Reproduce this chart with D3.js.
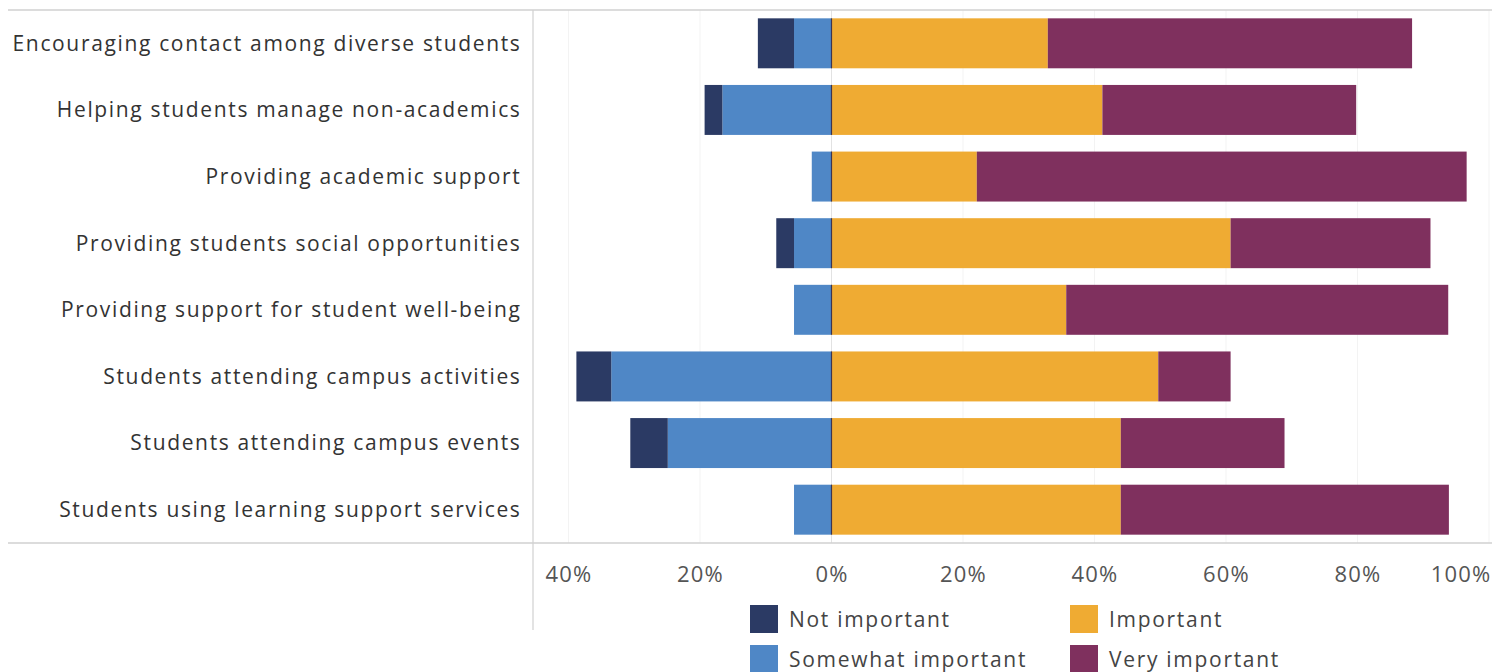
<!DOCTYPE html>
<html>
<head>
<meta charset="utf-8">
<script src="https://cdn.jsdelivr.net/npm/d3@7"></script>
<style>
  body { margin: 0; background: #fff; }
  text { font-family: "Open Sans", sans-serif; }
</style>
</head>
<body>
<div id="chart"></div>
<script>
// Survey items (rows, top to bottom)
var categories = [
  "Encouraging contact among diverse students",
  "Helping students manage non-academics",
  "Providing academic support",
  "Providing students social opportunities",
  "Providing support for student well-being",
  "Students attending campus activities",
  "Students attending campus events",
  "Students using learning support services"
];

// Percent of respondents per rating
var notImportant      = [5.5, 2.7, 0.0, 2.7, 0.0, 5.3, 5.7, 0.0];
var somewhatImportant = [5.7, 16.6, 3.0, 5.7, 5.7, 33.5, 24.9, 5.7];
var important         = [32.9, 41.2, 22.1, 60.7, 35.7, 49.7, 44.0, 44.0];
var veryImportant     = [55.4, 38.6, 74.5, 30.4, 58.1, 11.0, 24.9, 49.9];

var ratingLabels = ["Not important", "Somewhat important", "Important", "Very important"];
var ratingColors = ["#2b3a64", "#4f87c6", "#efab33", "#7f305e"];
var tickValues = [-40, -20, 0, 20, 40, 60, 80, 100];

var svgWidth = 1492;
var svgHeight = 672;
var plotLeft = 533;
var plotTop = 10;
var plotBottom = 543;

var svg = d3.select("#chart")
  .append("svg")
  .attr("width", svgWidth)
  .attr("height", svgHeight);

// build rows for the stack; left side values are negative
var rows = categories.map(function(c, i) {
  return {
    cat: c,
    "Somewhat important": -somewhatImportant[i],
    "Not important": -notImportant[i],
    "Important": important[i],
    "Very important": veryImportant[i]
  };
});

var stackKeys = ["Somewhat important", "Not important", "Important", "Very important"];
var series = d3.stack()
  .keys(stackKeys)
  .offset(d3.stackOffsetDiverging)(rows);

var color = d3.scaleOrdinal().domain(ratingLabels).range(ratingColors);

var x = d3.scaleLinear()
  .domain([0, 100])
  .range([831.5, 1489]);

var y = d3.scaleBand()
  .domain(categories)
  .range([plotTop, plotBottom])
  .paddingInner(0.25)
  .paddingOuter(0.125);

// faint gridlines
svg.append("g")
  .selectAll("line")
  .data(tickValues.filter(d => d !== 0))
  .enter()
  .append("line")
  .attr("x1", d => x(d))
  .attr("x2", d => x(d))
  .attr("y1", plotTop)
  .attr("y2", plotBottom)
  .attr("stroke", "#f3f3f3")
  .attr("stroke-width", 1);

// zero line
svg.append("line")
  .attr("x1", x(0))
  .attr("x2", x(0))
  .attr("y1", plotTop)
  .attr("y2", plotBottom)
  .attr("stroke", "#e2e2e2");

// bars
svg.append("g")
  .selectAll("g")
  .data(series)
  .enter()
  .append("g")
  .attr("fill", d => color(d.key))
  .selectAll("rect")
  .data(d => d)
  .enter()
  .append("rect")
  .attr("x", d => x(Math.min(d[0], d[1])))
  .attr("width", d => Math.abs(x(d[1]) - x(d[0])))
  .attr("y", d => y(d.data.cat))
  .attr("height", y.bandwidth());

// dark zero rule across each bar
svg.append("g")
  .selectAll("line")
  .data(categories)
  .enter()
  .append("line")
  .attr("x1", x(0))
  .attr("x2", x(0))
  .attr("y1", d => y(d))
  .attr("y2", d => y(d) + y.bandwidth())
  .attr("stroke", "#3d3550")
  .attr("stroke-width", 1.2);

// borders
svg.append("line")
  .attr("x1", 8).attr("x2", svgWidth)
  .attr("y1", plotTop).attr("y2", plotTop)
  .attr("stroke", "#d0d0d0").attr("stroke-width", 1.5);
svg.append("line")
  .attr("x1", 8).attr("x2", svgWidth)
  .attr("y1", plotBottom).attr("y2", plotBottom)
  .attr("stroke", "#d0d0d0").attr("stroke-width", 1.5);
svg.append("line")
  .attr("x1", plotLeft).attr("x2", plotLeft)
  .attr("y1", plotTop).attr("y2", 630)
  .attr("stroke", "#d0d0d0").attr("stroke-width", 1.2);

// category labels
svg.append("g")
  .selectAll("text")
  .data(categories)
  .enter()
  .append("text")
  .attr("x", 521.5)
  .attr("y", d => y(d) + y.bandwidth() / 2)
  .attr("dy", "0.35em")
  .attr("text-anchor", "end")
  .attr("font-size", "21px")
  .attr("letter-spacing", "1.65px")
  .attr("fill", "#333")
  .text(d => d);

// x axis
var xAxis = d3.axisBottom(x)
  .tickValues(tickValues)
  .tickSize(0)
  .tickPadding(0)
  .tickFormat(d => Math.abs(d) + "%");

var axisG = svg.append("g")
  .attr("transform", `translate(0, ${plotBottom + 23})`)
  .call(xAxis);
axisG.select(".domain").remove();
axisG.selectAll("text")
  .attr("font-family", "Open Sans, sans-serif")
  .attr("font-size", "22px")
  .attr("letter-spacing", "1.2px")
  .attr("fill", "#555");
// last label sits at the right edge; keep it inside the page
axisG.selectAll(".tick")
  .filter(d => d === 100)
  .select("text")
  .attr("text-anchor", "end")
  .attr("x", svgWidth - 1 - x(100));

// legend
var legendPos = [
  { x: 750, y: 605 },
  { x: 750, y: 645 },
  { x: 1070, y: 605 },
  { x: 1070, y: 645 }
];
var legend = svg.append("g")
  .selectAll("g")
  .data(ratingLabels)
  .enter()
  .append("g")
  .attr("transform", (d, i) => `translate(${legendPos[i].x}, ${legendPos[i].y})`);

legend.append("rect")
  .attr("width", 28)
  .attr("height", 28)
  .attr("fill", d => color(d));

legend.append("text")
  .attr("x", 39)
  .attr("y", 15)
  .attr("dy", "0.35em")
  .attr("font-size", "21px")
  .attr("letter-spacing", "1.7px")
  .attr("fill", "#444")
  .text(d => d);
</script>
</body>
</html>
